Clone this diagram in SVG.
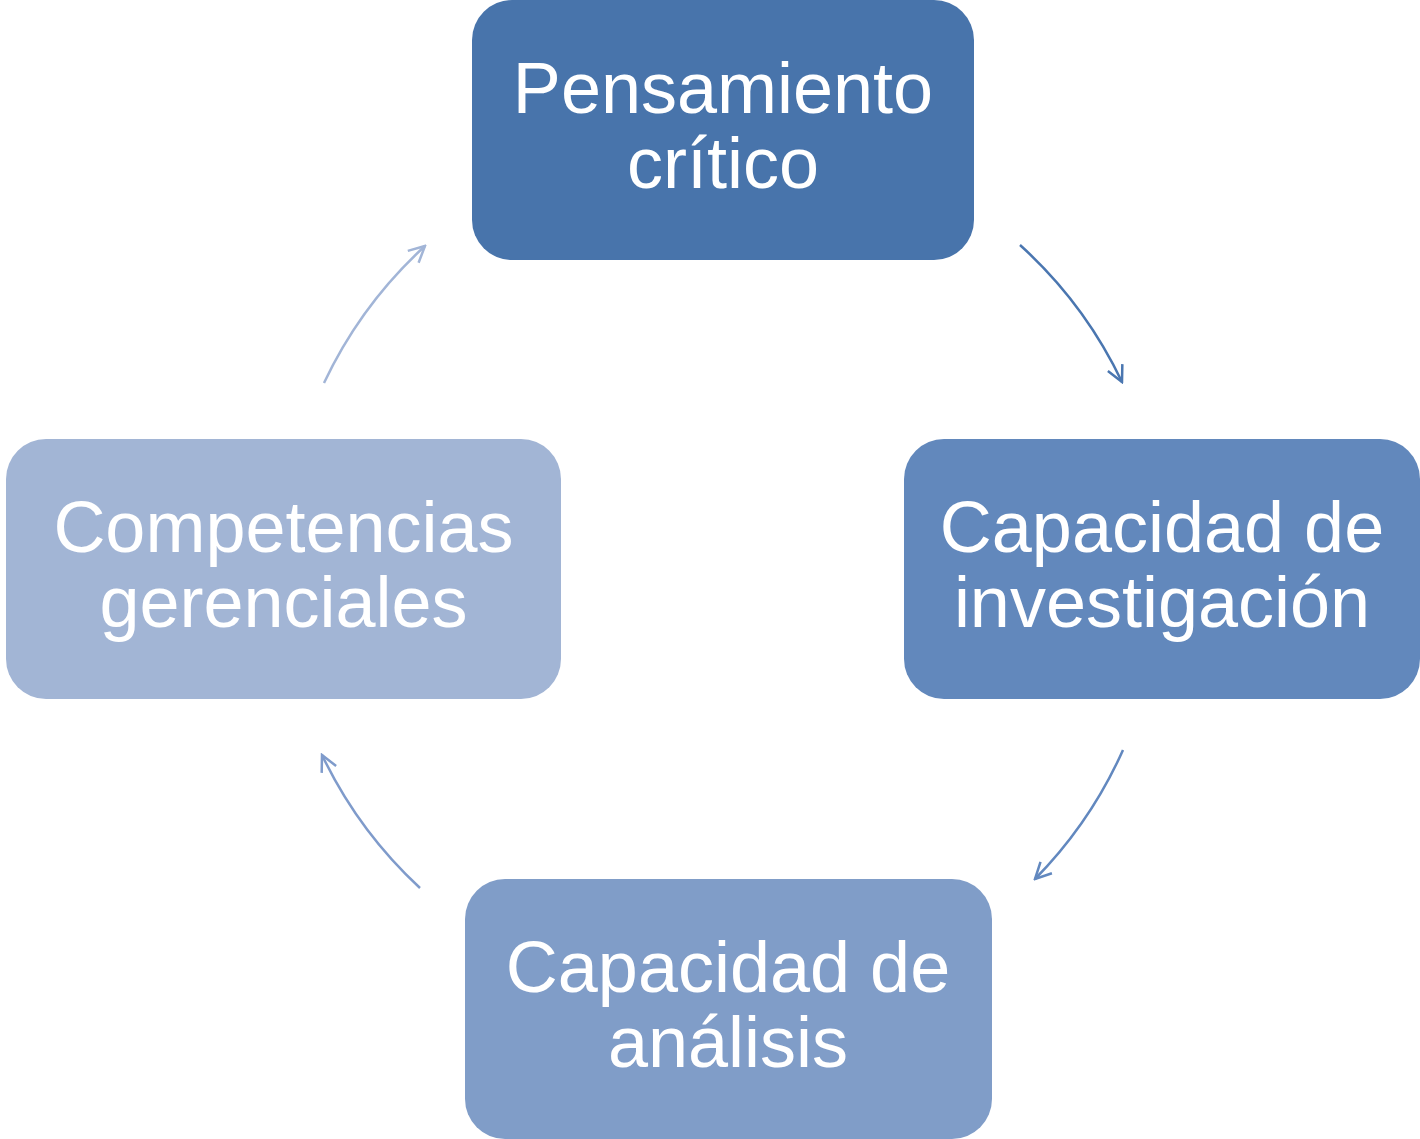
<svg xmlns="http://www.w3.org/2000/svg" width="1420" height="1139" viewBox="0 0 1420 1139">
<style>
.lbl{font-family:"Liberation Sans",Arial,sans-serif;font-size:72px;fill:#ffffff;text-anchor:middle}
.arc{fill:none;stroke-width:2.5}
</style>
<defs>
<marker id="m1" viewBox="0 0 20 20" refX="18" refY="10" markerWidth="20" markerHeight="20" markerUnits="userSpaceOnUse" orient="auto"><path d="M2,2 L18,10 L2,18" fill="none" stroke="#4A76B0" stroke-width="2.5"/></marker>
<marker id="m2" viewBox="0 0 20 20" refX="18" refY="10" markerWidth="20" markerHeight="20" markerUnits="userSpaceOnUse" orient="auto"><path d="M2,2 L18,10 L2,18" fill="none" stroke="#6288BF" stroke-width="2.5"/></marker>
<marker id="m3" viewBox="0 0 20 20" refX="18" refY="10" markerWidth="20" markerHeight="20" markerUnits="userSpaceOnUse" orient="auto"><path d="M2,2 L18,10 L2,18" fill="none" stroke="#7F9BCB" stroke-width="2.5"/></marker>
<marker id="m4" viewBox="0 0 20 20" refX="18" refY="10" markerWidth="20" markerHeight="20" markerUnits="userSpaceOnUse" orient="auto"><path d="M2,2 L18,10 L2,18" fill="none" stroke="#A2B5D7" stroke-width="2.5"/></marker>
</defs>
<g id="connectors">
<path class="arc" stroke="#4A76B0" marker-end="url(#m1)" d="M1020,245 A440,440 0 0 1 1122,382"/>
<path class="arc" stroke="#6288BF" marker-end="url(#m2)" d="M1123,750 A440,440 0 0 1 1035,879"/>
<path class="arc" stroke="#7F9BCB" marker-end="url(#m3)" d="M420,888 A440,440 0 0 1 322,755"/>
<path class="arc" stroke="#A2B5D7" marker-end="url(#m4)" d="M324,383 A440,440 0 0 1 425,246"/>
</g>
<g id="node-pensamiento">
<rect x="472" y="0" width="502" height="260" rx="40" fill="#4874AB"/>
<text class="lbl" x="723" y="113">Pensamiento</text>
<text class="lbl" x="723" y="188">crítico</text>
</g>
<g id="node-investigacion">
<rect x="904" y="439" width="516" height="260" rx="40" fill="#6288BC"/>
<text class="lbl" x="1162" y="552">Capacidad de</text>
<text class="lbl" x="1162" y="627">investigación</text>
</g>
<g id="node-analisis">
<rect x="465" y="879" width="527" height="260" rx="40" fill="#809DC8"/>
<text class="lbl" x="728" y="992">Capacidad de</text>
<text class="lbl" x="728" y="1067">análisis</text>
</g>
<g id="node-competencias">
<rect x="6" y="439" width="555" height="260" rx="40" fill="#A2B5D5"/>
<text class="lbl" x="283.5" y="552">Competencias</text>
<text class="lbl" x="283.5" y="627">gerenciales</text>
</g>
</svg>
